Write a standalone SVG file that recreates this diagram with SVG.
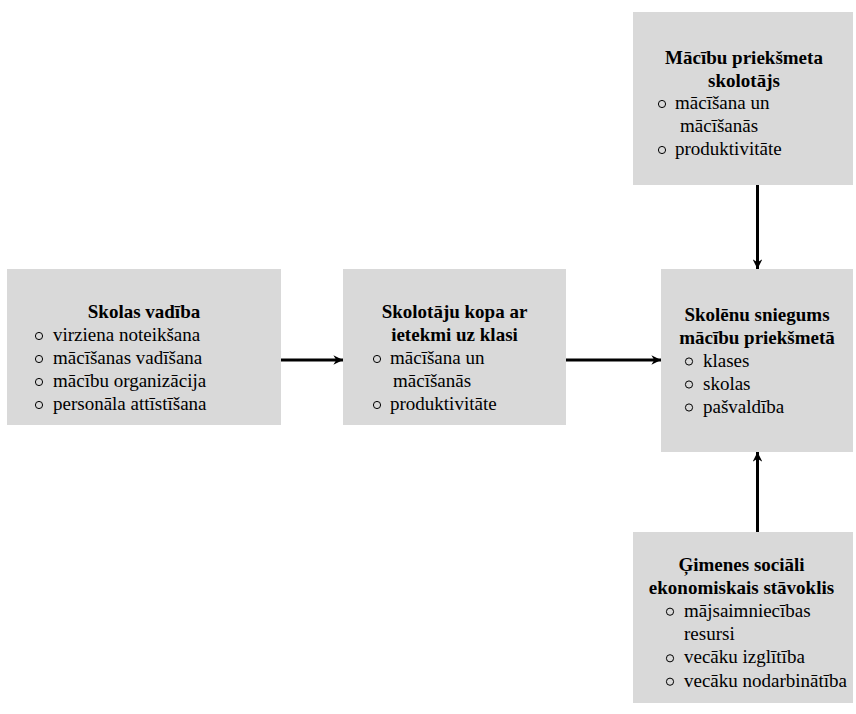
<svg xmlns="http://www.w3.org/2000/svg" width="856" height="714" viewBox="0 0 856 714">
  <style>
    .box { fill: #d9d9d9; }
    .title { font-family: "Liberation Serif", "Times New Roman", serif; font-size: 19px; font-weight: bold; fill: #000; text-anchor: middle; }
    .item { font-family: "Liberation Serif", "Times New Roman", serif; font-size: 19px; fill: #000; }
    .bullet { fill: none; stroke: #000; stroke-width: 1; }
    .conn { stroke: #000; stroke-width: 3; fill: none; marker-end: url(#arrow); }
  </style>
  <defs>
    <marker id="arrow" viewBox="0 0 10 10" refX="10" refY="5" markerWidth="3.2" markerHeight="3.2" orient="auto" markerUnits="strokeWidth">
      <path d="M0,0 L10,5 L0,10 L3,5 Z" fill="#000"/>
    </marker>
  </defs>

  <rect width="856" height="714" fill="#fff"/>

  <!-- Subject teacher -->
  <g id="subject-teacher">
    <rect class="box" x="633" y="12" width="220" height="173"/>
    <text class="title" x="744" y="64">Mācību priekšmeta</text>
    <text class="title" x="744" y="87">skolotājs</text>
    <circle class="bullet" cx="662" cy="104" r="3.6"/>
    <text class="item" x="675" y="109">mācīšana un</text>
    <text class="item" x="680" y="132">mācīšanās</text>
    <circle class="bullet" cx="662" cy="150" r="3.6"/>
    <text class="item" x="675" y="155">produktivitāte</text>
  </g>

  <!-- School leadership -->
  <g id="school-leadership">
    <rect class="box" x="7" y="269" width="274" height="156"/>
    <text class="title" x="144" y="318">Skolas vadība</text>
    <circle class="bullet" cx="39" cy="336" r="3.6"/>
    <text class="item" x="53" y="341">virziena noteikšana</text>
    <circle class="bullet" cx="39" cy="359" r="3.6"/>
    <text class="item" x="53" y="364">mācīšanas vadīšana</text>
    <circle class="bullet" cx="39" cy="382" r="3.6"/>
    <text class="item" x="53" y="387">mācību organizācija</text>
    <circle class="bullet" cx="39" cy="405" r="3.6"/>
    <text class="item" x="53" y="410">personāla attīstīšana</text>
  </g>

  <!-- Teaching staff -->
  <g id="teaching-staff">
    <rect class="box" x="343" y="269" width="223" height="156"/>
    <text class="title" x="454.5" y="318">Skolotāju kopa ar</text>
    <text class="title" x="454.5" y="341">ietekmi uz klasi</text>
    <circle class="bullet" cx="377" cy="359" r="3.6"/>
    <text class="item" x="390" y="364">mācīšana un</text>
    <text class="item" x="393" y="387">mācīšanās</text>
    <circle class="bullet" cx="377" cy="405" r="3.6"/>
    <text class="item" x="390" y="410">produktivitāte</text>
  </g>

  <!-- Student achievement -->
  <g id="student-achievement">
    <rect class="box" x="661" y="269" width="192" height="183"/>
    <text class="title" x="757" y="320.5">Skolēnu sniegums</text>
    <text class="title" x="757" y="343.5">mācību priekšmetā</text>
    <circle class="bullet" cx="689" cy="361.5" r="3.6"/>
    <text class="item" x="703" y="366.5">klases</text>
    <circle class="bullet" cx="689" cy="384.5" r="3.6"/>
    <text class="item" x="703" y="389.5">skolas</text>
    <circle class="bullet" cx="689" cy="407.5" r="3.6"/>
    <text class="item" x="703" y="412.5">pašvaldība</text>
  </g>

  <!-- Family socio-economic status -->
  <g id="family-status">
    <rect class="box" x="633" y="532" width="220" height="171"/>
    <text class="title" x="741.5" y="571">Ģimenes sociāli</text>
    <text class="title" x="741.5" y="593.5">ekonomiskais stāvoklis</text>
    <circle class="bullet" cx="670" cy="611.7" r="3.6"/>
    <text class="item" x="684" y="616.7">mājsaimniecības</text>
    <text class="item" x="684" y="640">resursi</text>
    <circle class="bullet" cx="670" cy="658.3" r="3.6"/>
    <text class="item" x="684" y="663.3">vecāku izglītība</text>
    <circle class="bullet" cx="670" cy="681.7" r="3.6"/>
    <text class="item" x="684" y="686.7">vecāku nodarbinātība</text>
  </g>

  <!-- Connectors -->
  <g id="connectors">
    <line class="conn" x1="281" y1="360" x2="343" y2="360"/>
    <line class="conn" x1="566" y1="360" x2="661" y2="360"/>
    <line class="conn" x1="757.5" y1="185" x2="757.5" y2="269"/>
    <line class="conn" x1="757.5" y1="532" x2="757.5" y2="452"/>
  </g>
</svg>
